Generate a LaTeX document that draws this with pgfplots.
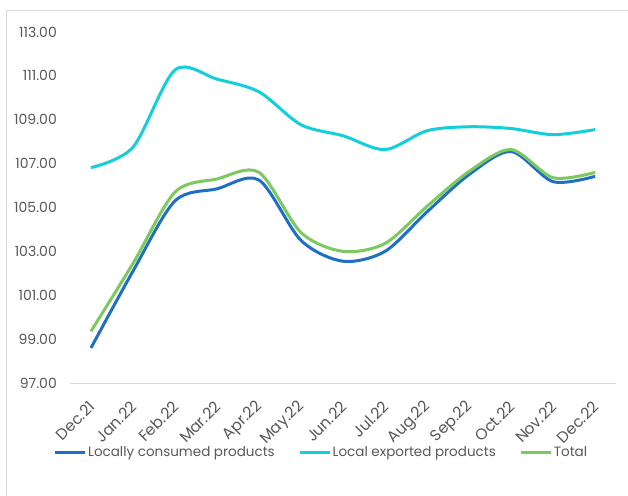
\documentclass[border=0pt]{standalone}
\usepackage{pgfplots}
\pgfplotsset{compat=1.18}
\usepackage{fontspec}
\setmainfont{Poppins}
\definecolor{txt}{HTML}{595959}
\definecolor{cblue}{HTML}{1F6FC5}
\definecolor{ccyan}{HTML}{13CFDA}
\definecolor{cgreen}{HTML}{7CC95E}
\definecolor{frame}{HTML}{D9D9D9}
\begin{document}
\begin{tikzpicture}[x=1pt,y=1pt]
\useasboundingbox (0,0) rectangle (628,495);
\fill[white] (0,0) rectangle (628,495);
\draw[frame, line width=1pt] (6,0) -- (6,484) -- (628,484);
\begin{axis}[
  at={(70pt,112pt)}, anchor=south west,
  scale only axis, width=546pt, height=351pt,
  xmin=-0.5, xmax=12.5, ymin=97, ymax=113,
  ytick={97,99,...,113},
  yticklabel={\pgfmathprintnumber[fixed,fixed zerofill,precision=2]{\tick}},
  /pgf/number format/assume math mode=true,
  xtick={0,...,12},
  xticklabels={Dec.21,Jan.22,Feb.22,Mar.22,Apr.22,May.22,Jun.22,Jul.22,Aug.22,Sep.22,Oct.22,Nov.22,Dec.22},
  xticklabel style={xshift=1pt, yshift=-21pt, rotate=45, anchor=east, inner sep=0pt, font=\fontsize{15.5}{17}\selectfont, text=txt},
  yticklabel style={font=\fontsize{14}{16}\selectfont, text=txt, inner sep=0pt, xshift=-13pt},
  axis x line*=bottom, axis y line*=left,
  x axis line style={draw=none}, y axis line style={draw=none},
  major tick length=0pt,
  legend columns=3,
  legend style={at={(0.46,-0.197)}, anchor=center, draw=none, fill=none,
    font=\fontsize{13.5}{15}\selectfont, text=txt,
    nodes={inner sep=1.5pt},
    /tikz/every even column/.append style={column sep=22pt}},
  legend image code/.code={\draw[#1, line width=3pt] (0pt,0pt) -- (30pt,0pt);},
  clip=false,
]
\draw[frame, line width=1pt] (axis cs:-0.5,97) -- (axis cs:12.5,97);
\addplot[cblue, line width=3pt, smooth, tension=0.5] coordinates {
(0,98.6) (1,102.1) (2,105.3) (3,105.85) (4,106.25) (5,103.5) (6,102.55) (7,103.0) (8,104.8) (9,106.5) (10,107.55) (11,106.18) (12,106.42)};
\addlegendentry{Locally consumed products}
\addplot[ccyan, line width=3pt, smooth, tension=0.5] coordinates {
(0,106.82) (1,107.75) (2,111.27) (3,110.85) (4,110.27) (5,108.77) (6,108.27) (7,107.64) (8,108.5) (9,108.68) (10,108.6) (11,108.32) (12,108.55)};
\addlegendentry{Local exported products}
\addplot[cgreen, line width=3pt, smooth, tension=0.5] coordinates {
(0,99.36) (1,102.45) (2,105.7) (3,106.3) (4,106.6) (5,103.86) (6,103.0) (7,103.36) (8,105.05) (9,106.64) (10,107.64) (11,106.36) (12,106.6)};
\addlegendentry{Total}
\end{axis}
\end{tikzpicture}
\end{document}
